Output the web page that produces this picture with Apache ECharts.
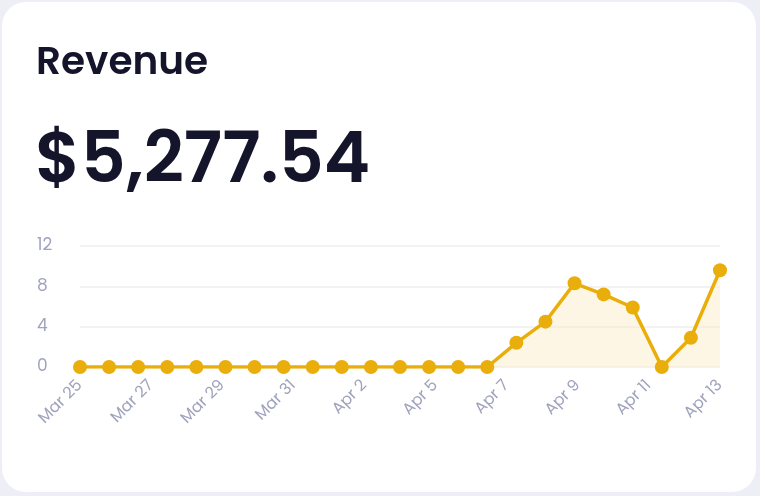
<!DOCTYPE html>
<html><head><meta charset="utf-8">
<script src="https://cdn.jsdelivr.net/npm/echarts@6/dist/echarts.min.js"></script>
<style>
html,body{margin:0;padding:0;background:#eeeef6;}
#card{position:absolute;left:2px;top:2px;width:754px;height:490px;background:#fff;border-radius:24px;}
#chart{position:absolute;left:0;top:0;width:760px;height:496px;}
</style></head><body>
<div id="card"></div>
<div id="chart"></div>
<script>
const title = "Revenue";
const total = "$5,277.54";
const days = ["Mar 22","Mar 23","Mar 24","Mar 25","Mar 26","Mar 27","Mar 28","Mar 29","Mar 30","Mar 31","Apr 1","Apr 2","Apr 3","Apr 4","Apr 5","Apr 6","Apr 7","Apr 8","Apr 9","Apr 10","Apr 11","Apr 12","Apr 13"];
const revenue = [0,0,0,0,0,0,0,0,0,0,0,0,0,0,0,2.4,4.5,8.3,7.2,5.9,0,2.9,9.6];
const tickLabels = ["Mar 25","Mar 27","Mar 29","Mar 31","Apr 2","Apr 5","Apr 7","Apr 9","Apr 11","Apr 13"];
const yTicks = [0,4,8,12];
const gray = "#a0a3bd";
const chart = echarts.init(document.getElementById('chart'));
chart.setOption({
  animation:false,
  title:[
    {text:title,left:31,top:40,textStyle:{fontFamily:"Poppins, Inter, sans-serif",fontSize:39,fontWeight:600,color:"#14142b"}},
    {text:total,left:30,top:124,textStyle:{fontFamily:"Poppins, Inter, sans-serif",fontSize:70,fontWeight:600,color:"#14142b"}}
  ],
  grid:{left:80,right:40,top:246,bottom:129},
  xAxis:[
    {type:'category',data:days,boundaryGap:false,show:false},
    {type:'category',data:tickLabels,boundaryGap:false,position:'bottom',offset:0,
     axisLine:{show:false},axisTick:{show:false},
     axisLabel:{rotate:45,color:gray,fontSize:16,fontFamily:"Poppins, Inter, sans-serif",margin:16,interval:0}}
  ],
  yAxis:{type:'value',min:yTicks[0],max:yTicks[yTicks.length-1],interval:4,
    axisLabel:{color:gray,fontSize:17,fontFamily:"Poppins, Inter, sans-serif",margin:43,align:'left'},
    splitLine:{lineStyle:{color:"#eeeef2",width:1.5}}},
  series:[{type:'line',xAxisIndex:0,data:revenue,symbol:'circle',symbolSize:14,
    itemStyle:{color:"#e9ae0b"},lineStyle:{color:"#e9ae0b",width:3.5},
    areaStyle:{color:"rgba(252,234,190,0.6)"}}]
});
</script></body></html>
